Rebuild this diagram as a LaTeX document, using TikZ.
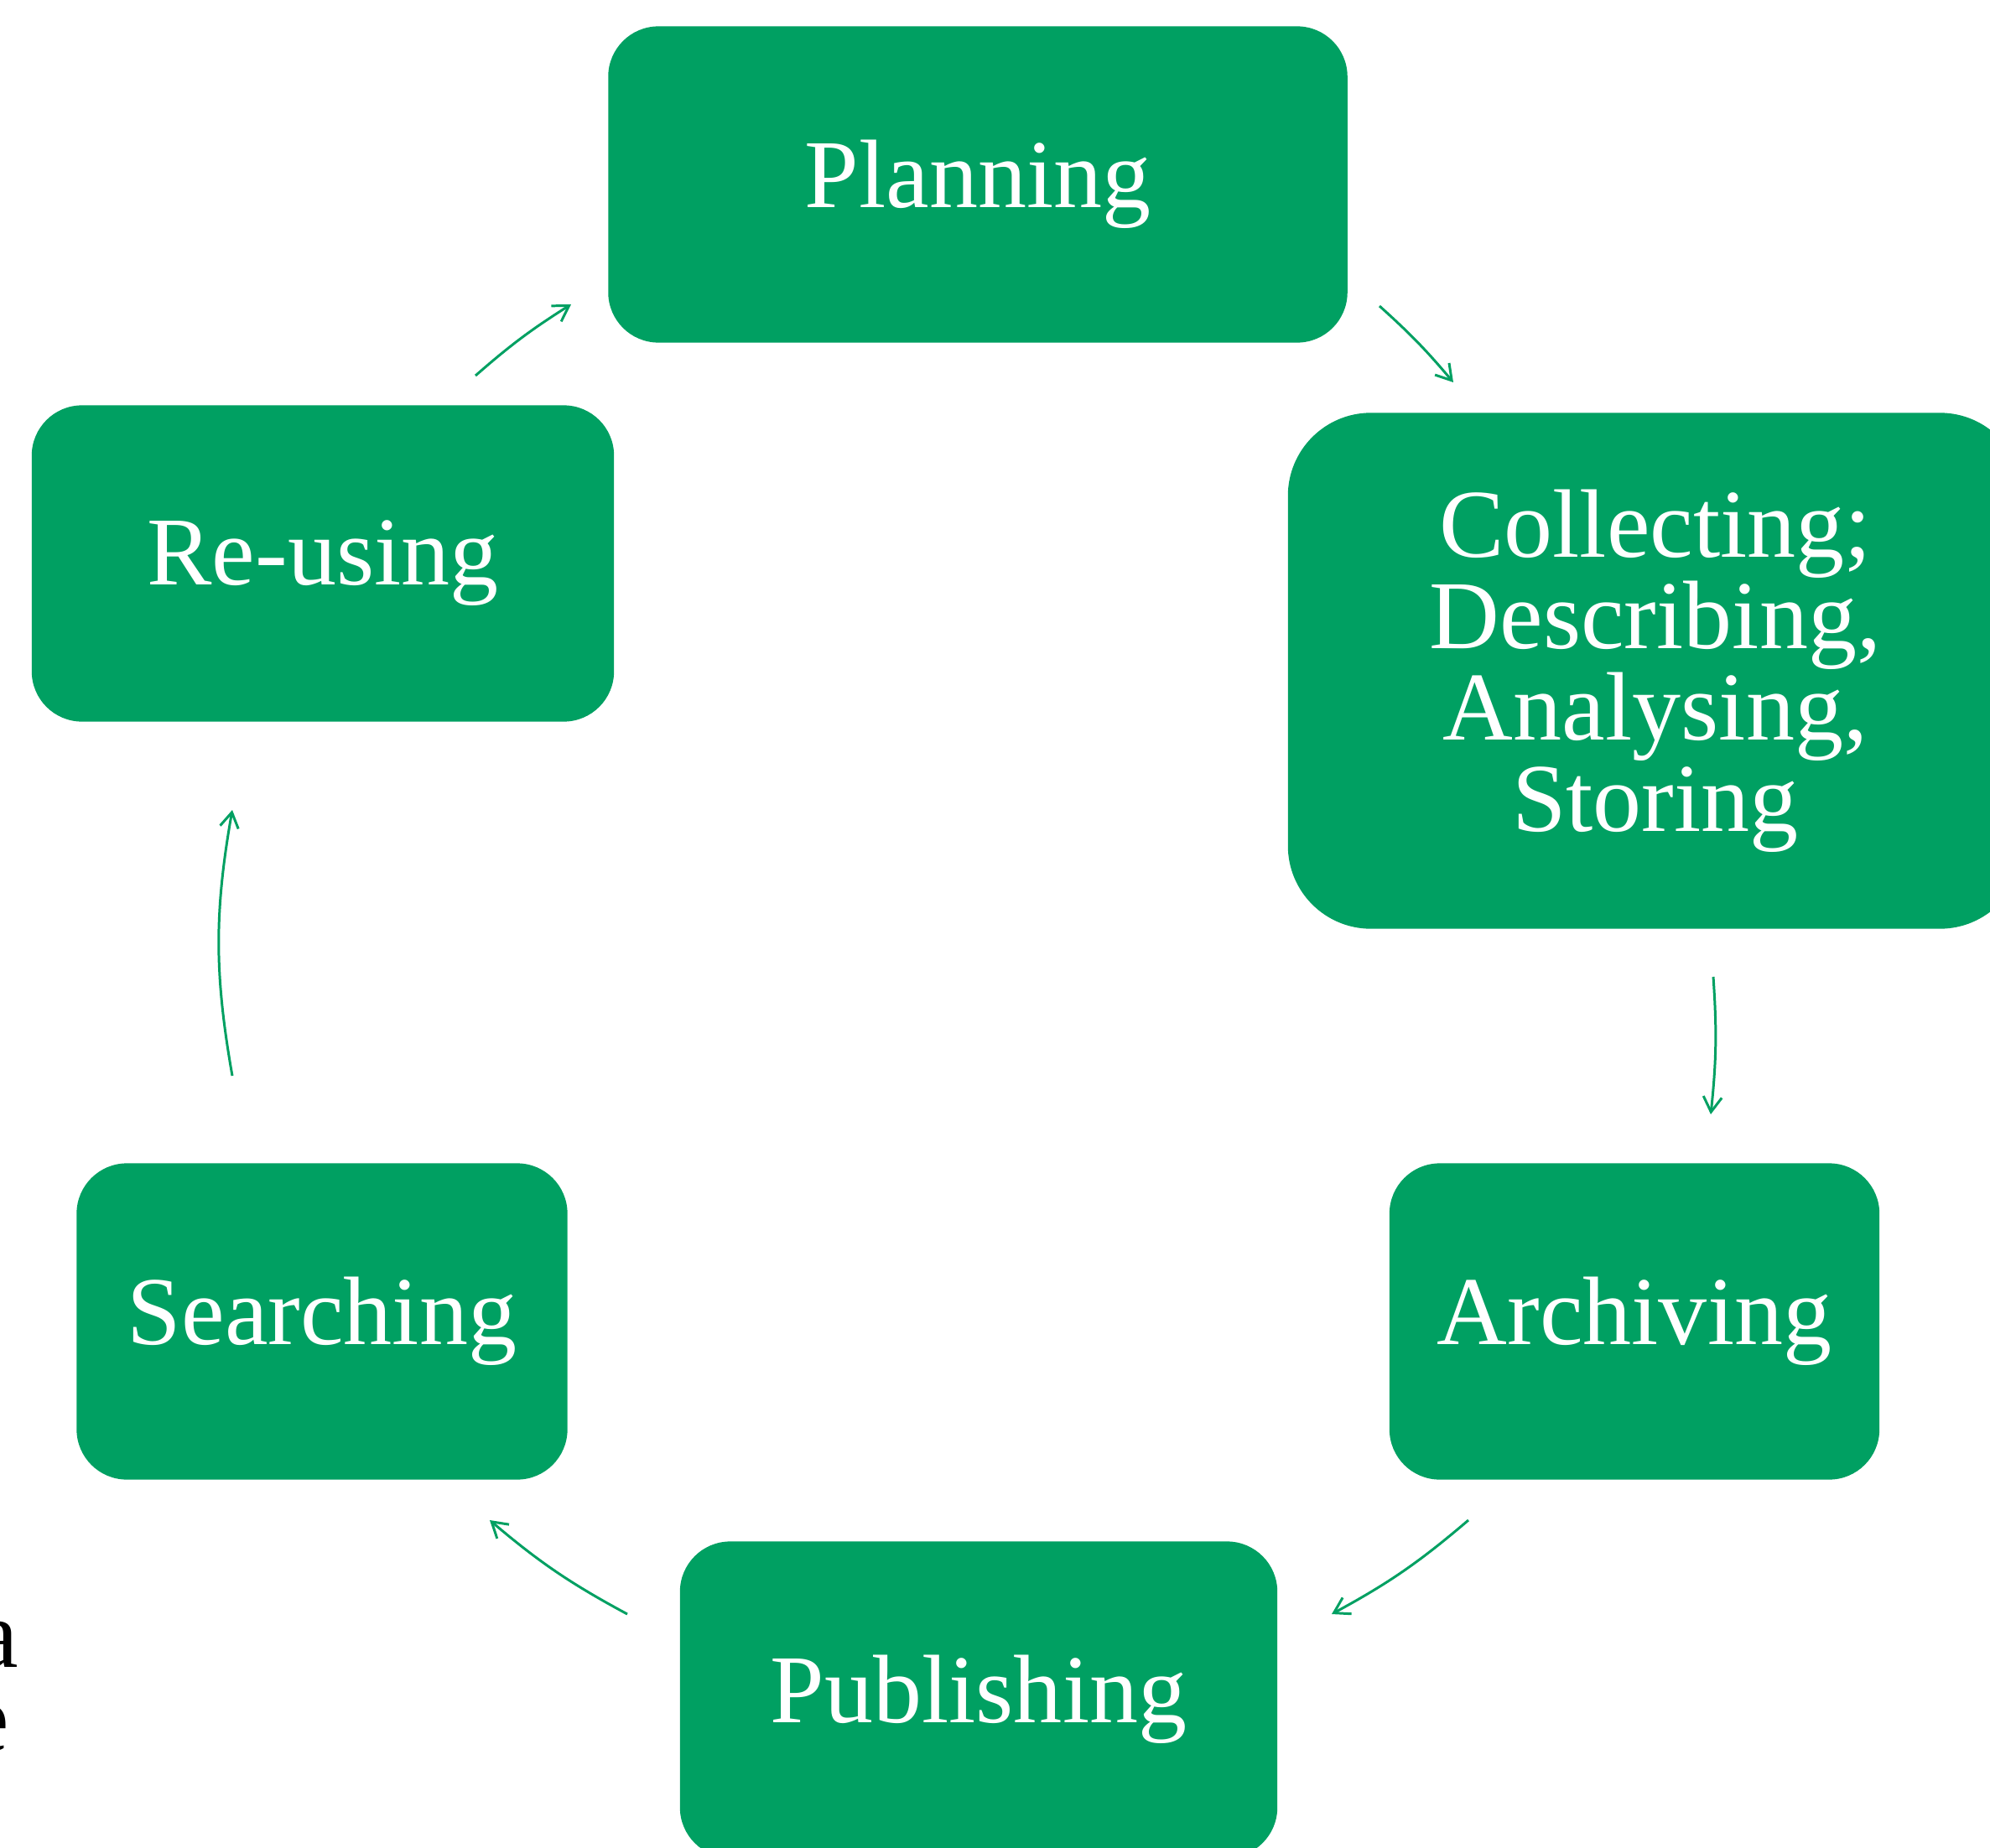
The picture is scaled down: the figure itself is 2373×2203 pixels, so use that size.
\documentclass[tikz,border=0pt]{standalone}
\usepackage{fontspec}
\setmainfont{Liberation Serif}
\usetikzlibrary{arrows.meta}
\definecolor{leaf}{RGB}{0,160,98}
\begin{document}
\begin{tikzpicture}[x=0.01cm,y=-0.01cm,
  stage/.style={fill=leaf,text=white,rounded corners=0.6cm,minimum height=3.77cm,inner sep=0pt,
    font=\fontsize{33}{31}\selectfont,align=center},
  cyc/.style={draw=leaf,line width=0.85pt,-{Straight Barb[length=1.8mm,width=2.2mm]}}]
\useasboundingbox (0,0) rectangle (2373,2203);
\node[stage,minimum width=8.81cm] (plan) at (1166,220) {Planning};
\node[stage,minimum width=8.76cm,minimum height=6.15cm,rounded corners=0.99cm] (coll) at (1974,800)
  {Collecting;\\Describing,\\Analysing,\\Storing};
\node[stage,minimum width=5.84cm] (arch) at (1949,1576) {Archiving};
\node[stage,minimum width=7.12cm] (publ) at (1167,2027) {Publishing};
\node[stage,minimum width=5.85cm] (srch) at (384,1576) {Searching};
\node[stage,minimum width=6.94cm] (reus) at (385,672) {Re-using};
\node[anchor=base east,inner sep=0pt,font=\fontsize{33}{30}\selectfont] (fa) at (23,1988) {a};
\node[anchor=base east,inner sep=0pt,font=\fontsize{33}{30}\selectfont] (fe) at (12,2088) {e};
\coordinate (a1) at (1645,365); \coordinate (b1) at (1733,456);
\coordinate (a2) at (2043,1165); \coordinate (b2) at (2040,1329);
\coordinate (a3) at (1751,1813); \coordinate (b3) at (1588,1925);
\coordinate (a4) at (748,1925); \coordinate (b4) at (584,1813);
\coordinate (a5) at (277,1283); \coordinate (b5) at (277,966);
\coordinate (a6) at (567,448); \coordinate (b6) at (681,363);
\foreach \s/\e/\b in {a1/b1/4,a2/b2/5,a3/b3/6,a4/b4/6,a5/b5/10,a6/b6/4.5}
    \draw[cyc] (\s) to[bend left=\b] (\e);
\end{tikzpicture}
\end{document}
